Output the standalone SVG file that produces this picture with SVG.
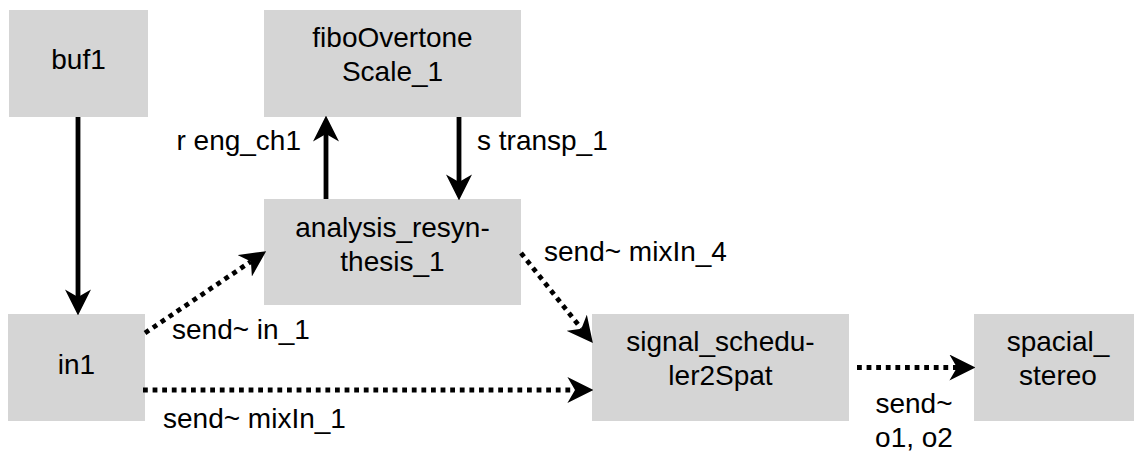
<svg xmlns="http://www.w3.org/2000/svg" width="1134" height="452" viewBox="0 0 1134 452">
  <style>
    .box { fill: #d5d5d5; stroke: none; }
    .t { font-family: "Liberation Sans", Arial, Helvetica, sans-serif; font-size: 28px; fill: #000; }
    .c { text-anchor: middle; }
    .solid { fill: none; stroke: #000; stroke-width: 4.8; }
    .dot { fill: none; stroke: #000; stroke-width: 4.8; stroke-dasharray: 4.8 4.8; }
  </style>
  <defs>
    <marker id="arr" markerUnits="userSpaceOnUse" markerWidth="26" markerHeight="26" viewBox="0 0 24 24" refX="7" refY="12" orient="auto">
      <path d="M24,12 L0,0 L7,12 L0,24 Z" fill="#000"/>
    </marker>
  </defs>

  <g id="buf1">
    <rect class="box" x="9" y="10" width="139" height="107"/>
    <text class="t c" x="78.5" y="69">buf1</text>
  </g>
  <g id="fiboOvertoneScale_1">
    <rect class="box" x="264" y="10" width="257" height="107"/>
    <text class="t c" x="392.5" y="47">fiboOvertone</text>
    <text class="t c" x="392.5" y="81">Scale_1</text>
  </g>
  <g id="analysis_resynthesis_1">
    <rect class="box" x="264" y="199" width="257" height="106"/>
    <text class="t c" x="392.5" y="237">analysis_resyn-</text>
    <text class="t c" x="392.5" y="271">thesis_1</text>
  </g>
  <g id="in1">
    <rect class="box" x="8" y="314" width="137" height="107"/>
    <text class="t c" x="76.5" y="374">in1</text>
  </g>
  <g id="signal_scheduler2Spat">
    <rect class="box" x="592" y="314" width="257" height="107"/>
    <text class="t c" x="720.5" y="351">signal_schedu-</text>
    <text class="t c" x="720.5" y="385">ler2Spat</text>
  </g>
  <g id="spacial_stereo">
    <rect class="box" x="974" y="314" width="170" height="107"/>
    <text class="t c" x="1058" y="351">spacial_</text>
    <text class="t c" x="1058" y="385">stereo</text>
  </g>

  <g id="connectors">
    <path class="solid" d="M78,117 L78,297" marker-end="url(#arr)"/>
    <path class="solid" d="M326,199 L326,134" marker-end="url(#arr)"/>
    <path class="solid" d="M459,117 L459,182" marker-end="url(#arr)"/>
    <path class="dot" d="M145,333 L250.9,261.5" marker-end="url(#arr)"/>
    <path class="dot" d="M143,390 L575,390" marker-end="url(#arr)"/>
    <path class="dot" d="M521,253 L581.4,328.7" marker-end="url(#arr)"/>
    <path class="dot" d="M857,367.5 L957,367.5" marker-end="url(#arr)"/>

    <text class="t" x="301" y="150" text-anchor="end">r eng_ch1</text>
    <text class="t" x="477" y="150">s transp_1</text>
    <text class="t" x="172" y="339">send~ in_1</text>
    <text class="t" x="163" y="428">send~ mixIn_1</text>
    <text class="t" x="544" y="261">send~ mixIn_4</text>
    <text class="t c" x="914" y="413">send~</text>
    <text class="t c" x="914" y="447">o1, o2</text>
  </g>
</svg>
